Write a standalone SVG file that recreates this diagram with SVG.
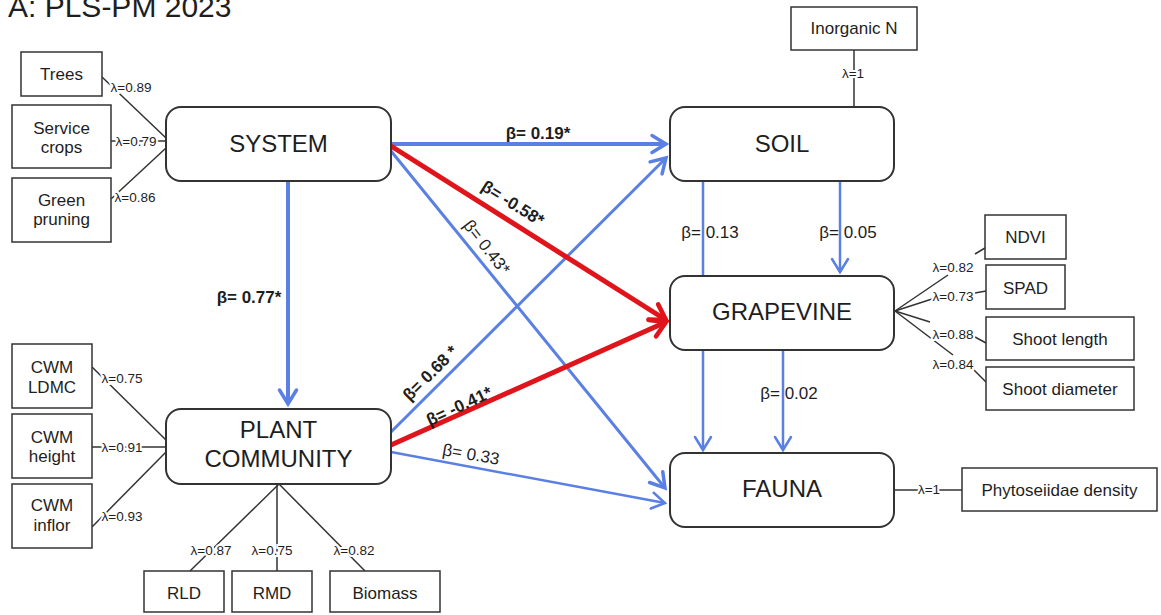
<svg xmlns="http://www.w3.org/2000/svg" width="1161" height="615" viewBox="0 0 1161 615">
<style>
text{font-family:"Liberation Sans",Arial,sans-serif;fill:#1e1e1e}
.ind{fill:#fff;stroke:#333;stroke-width:1.5}
.lat{fill:#fff;stroke:#333;stroke-width:2}
.it{font-size:17px;text-anchor:middle}
.lt{font-size:24px;text-anchor:middle}
.lam{font-size:13.5px;text-anchor:middle;stroke:#fff;stroke-width:4;paint-order:stroke}
.ld{stroke:#333;stroke-width:1.5;fill:none}
.b{font-size:17px;text-anchor:middle}
.bb{font-size:17px;text-anchor:middle;font-weight:bold}
.blue{stroke:#5b80e4;fill:none}
.red{stroke:#e0141b;fill:none}
</style>
<defs>
<marker id="ab" markerUnits="userSpaceOnUse" viewBox="-20 -12 24 24" refX="0" refY="0" markerWidth="24" markerHeight="24" orient="auto" overflow="visible">
<path d="M-14,-8.5 L0,0 L-14,8.5" fill="none" stroke="#5b80e4" stroke-width="3.5" stroke-linecap="round" stroke-linejoin="miter"/>
</marker>
<marker id="abt" markerUnits="userSpaceOnUse" viewBox="-20 -12 24 24" refX="0" refY="0" markerWidth="24" markerHeight="24" orient="auto" overflow="visible">
<path d="M-13,-8 L0,0 L-13,8" fill="none" stroke="#5b80e4" stroke-width="2.5" stroke-linecap="round"/>
</marker>
<marker id="ar" markerUnits="userSpaceOnUse" viewBox="-20 -12 24 24" refX="0" refY="0" markerWidth="24" markerHeight="24" orient="auto" overflow="visible">
<path d="M-15,-9 L0,0 L-15,9" fill="none" stroke="#e0141b" stroke-width="4.5" stroke-linecap="round"/>
</marker>
</defs>
<rect width="1161" height="615" fill="#fff"/>
<text x="8" y="17" style="font-size:30px">A: PLS-PM 2023</text>

<g id="connectors">
<line class="blue" x1="391" y1="144" x2="666" y2="144" stroke-width="4" marker-end="url(#ab)"/>
<line class="blue" x1="288" y1="181" x2="288" y2="404" stroke-width="4" marker-end="url(#ab)"/>
<line class="blue" x1="391" y1="151" x2="665" y2="488" stroke-width="3" marker-end="url(#ab)"/>
<line class="blue" x1="391" y1="432" x2="666" y2="158" stroke-width="3" marker-end="url(#ab)"/>
<line class="blue" x1="391" y1="452" x2="665" y2="503" stroke-width="2.5" marker-end="url(#abt)"/>
<line class="red" x1="391" y1="146" x2="666" y2="320" stroke-width="5" marker-end="url(#ar)"/>
<line class="red" x1="391" y1="445" x2="666" y2="322" stroke-width="5" marker-end="url(#ar)"/>
<line class="blue" x1="703" y1="181" x2="703" y2="276" stroke-width="2.5"/>
<line class="blue" x1="840" y1="181" x2="840" y2="272" stroke-width="2.5" marker-end="url(#abt)"/>
<line class="blue" x1="703" y1="350" x2="703" y2="450" stroke-width="2.5" marker-end="url(#abt)"/>
<line class="blue" x1="783" y1="350" x2="783" y2="450" stroke-width="2.5" marker-end="url(#abt)"/>
<line class="ld" x1="102" y1="77" x2="166" y2="138"/>
<line class="ld" x1="111" y1="141" x2="166" y2="141"/>
<line class="ld" x1="111" y1="199" x2="166" y2="148"/>
<line class="ld" x1="92" y1="367" x2="166" y2="440"/>
<line class="ld" x1="92" y1="447" x2="166" y2="447"/>
<line class="ld" x1="92" y1="527" x2="166" y2="452"/>
<line class="ld" x1="279" y1="484" x2="190" y2="571"/>
<line class="ld" x1="277" y1="484" x2="277" y2="571"/>
<line class="ld" x1="279" y1="484" x2="365" y2="571"/>
<line class="ld" x1="854" y1="50" x2="854" y2="107"/>
<line class="ld" x1="894" y1="490" x2="962" y2="490"/>
<line class="ld" x1="895" y1="311" x2="948" y2="275"/>
<line class="ld" x1="975" y1="254" x2="985" y2="248"/>
<line class="ld" x1="895" y1="311" x2="932" y2="299"/>
<line class="ld" x1="975" y1="293" x2="986" y2="291"/>
<line class="ld" x1="895" y1="311" x2="930" y2="322"/>
<line class="ld" x1="975" y1="337" x2="986" y2="343"/>
<line class="ld" x1="895" y1="311" x2="953" y2="355"/>
<line class="ld" x1="974" y1="370" x2="986" y2="382"/>
<text class="bb" x="538" y="139">β= 0.19*</text>
<text class="bb" x="249" y="303">β= 0.77*</text>
<text class="bb" transform="translate(513,203) rotate(32)" y="6">β= -0.58*</text>
<text class="b" transform="translate(487,247) rotate(52)" y="6">β= 0.43*</text>
<text class="bb" transform="translate(430,373) rotate(-45)" y="6">β= 0.68 *</text>
<text class="bb" transform="translate(459,406) rotate(-25)" y="6">β= -0.41*</text>
<text class="b" transform="translate(471,454) rotate(10)" y="6">β= 0.33</text>
<text class="b" x="710" y="238">β= 0.13</text>
<text class="b" x="848" y="238">β= 0.05</text>
<text class="b" x="789" y="399">β= 0.02</text>
<text class="lam" x="131" y="92">λ=0.89</text>
<text class="lam" x="136" y="146">λ=0.79</text>
<text class="lam" x="135" y="202">λ=0.86</text>
<text class="lam" x="122" y="383">λ=0.75</text>
<text class="lam" x="122" y="452">λ=0.91</text>
<text class="lam" x="122" y="521">λ=0.93</text>
<text class="lam" x="211" y="555">λ=0.87</text>
<text class="lam" x="272" y="555">λ=0.75</text>
<text class="lam" x="354" y="555">λ=0.82</text>
<text class="lam" x="853" y="78">λ=1</text>
<text class="lam" x="929" y="494">λ=1</text>
<text class="lam" x="953" y="272">λ=0.82</text>
<text class="lam" x="953" y="301">λ=0.73</text>
<text class="lam" x="953" y="339">λ=0.88</text>
<text class="lam" x="953" y="369">λ=0.84</text>
</g>

<g id="system"><rect class="lat" x="166" y="107" width="225" height="74" rx="15"/><text class="lt" x="278.5" y="152">SYSTEM</text></g>
<g id="plant-community"><rect class="lat" x="166" y="409" width="225" height="75" rx="15"/><text class="lt" x="278.5" y="438">PLANT</text><text class="lt" x="278.5" y="467">COMMUNITY</text></g>
<g id="soil"><rect class="lat" x="670" y="107" width="224" height="74" rx="15"/><text class="lt" x="782" y="152">SOIL</text></g>
<g id="grapevine"><rect class="lat" x="670" y="276" width="224" height="74" rx="15"/><text class="lt" x="782" y="320">GRAPEVINE</text></g>
<g id="fauna"><rect class="lat" x="670" y="453" width="224" height="74" rx="15"/><text class="lt" x="782" y="497">FAUNA</text></g>

<g id="trees"><rect class="ind" x="21" y="52" width="81" height="44"/><text class="it" x="61.5" y="80">Trees</text></g>
<g id="service-crops"><rect class="ind" x="12" y="105" width="99" height="63"/><text class="it" x="61.5" y="134">Service</text><text class="it" x="61.5" y="153">crops</text></g>
<g id="green-pruning"><rect class="ind" x="12" y="178" width="99" height="64"/><text class="it" x="61.5" y="206">Green</text><text class="it" x="61.5" y="225">pruning</text></g>
<g id="cwm-ldmc"><rect class="ind" x="12" y="344" width="80" height="64"/><text class="it" x="52" y="373">CWM</text><text class="it" x="52" y="393">LDMC</text></g>
<g id="cwm-height"><rect class="ind" x="12" y="414" width="80" height="64"/><text class="it" x="52" y="443">CWM</text><text class="it" x="52" y="462">height</text></g>
<g id="cwm-inflor"><rect class="ind" x="12" y="484" width="80" height="64"/><text class="it" x="52" y="511">CWM</text><text class="it" x="52" y="531">inflor</text></g>
<g id="rld"><rect class="ind" x="144" y="571" width="80" height="41"/><text class="it" x="184" y="599">RLD</text></g>
<g id="rmd"><rect class="ind" x="232" y="571" width="80" height="41"/><text class="it" x="272" y="599">RMD</text></g>
<g id="biomass"><rect class="ind" x="330" y="571" width="110" height="41"/><text class="it" x="385" y="599">Biomass</text></g>
<g id="inorganic-n"><rect class="ind" x="791" y="7" width="126" height="43"/><text class="it" x="854" y="34">Inorganic N</text></g>
<g id="ndvi"><rect class="ind" x="985" y="215" width="81" height="44"/><text class="it" x="1025.5" y="243">NDVI</text></g>
<g id="spad"><rect class="ind" x="986" y="265" width="79" height="44"/><text class="it" x="1025.5" y="294">SPAD</text></g>
<g id="shoot-length"><rect class="ind" x="986" y="317" width="148" height="43"/><text class="it" x="1060" y="345">Shoot length</text></g>
<g id="shoot-diameter"><rect class="ind" x="986" y="367" width="148" height="43"/><text class="it" x="1060" y="395">Shoot diameter</text></g>
<g id="phytoseiidae"><rect class="ind" x="962" y="468" width="195" height="43"/><text class="it" x="1059.5" y="496">Phytoseiidae density</text></g>
</svg>
